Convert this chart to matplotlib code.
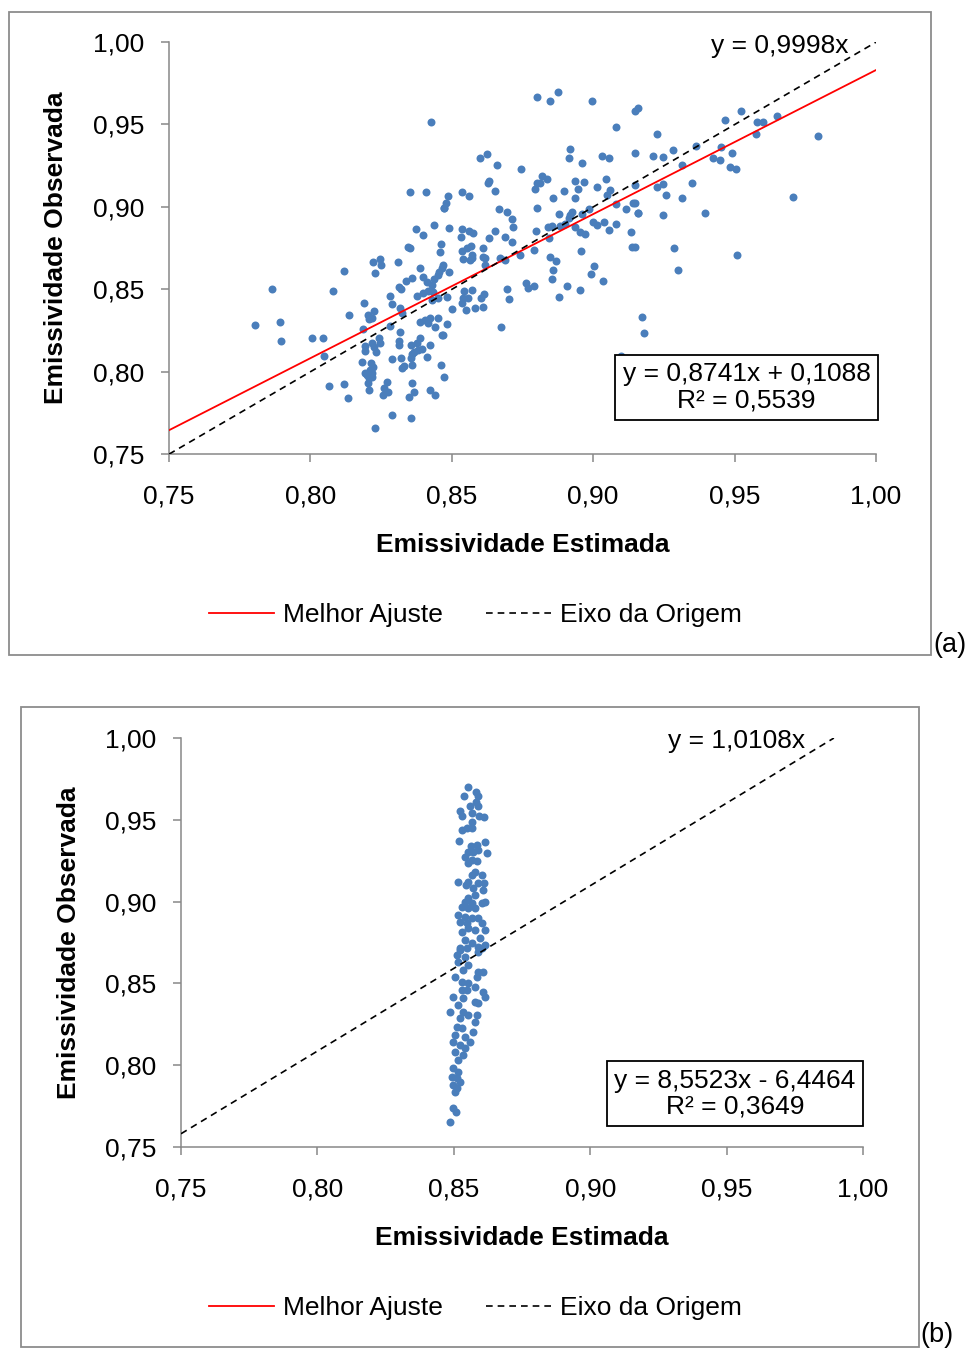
import matplotlib
matplotlib.use("Agg")
import matplotlib.pyplot as plt
from matplotlib.lines import Line2D
from matplotlib.patches import Rectangle
from matplotlib.ticker import FuncFormatter

plt.rcParams["font.family"] = ["Liberation Sans", "DejaVu Sans"]

# (a) emissividade estimada pelo modelo vs observada
est_a = [
    0.7865, 0.7805, 0.7891, 0.7895, 0.8080, 0.8119, 0.8007, 0.8045, 0.8049, 0.8136,
    0.8065, 0.8118, 0.8134, 0.8186, 0.8190, 0.8221, 0.8246, 0.8249, 0.8229, 0.8310,
    0.8389, 0.8338, 0.8358, 0.8312, 0.8319, 0.8280, 0.8290, 0.8399, 0.8411, 0.8429,
    0.8437, 0.8456, 0.8464, 0.8450, 0.8377, 0.8399, 0.8417, 0.8435, 0.8452, 0.8429,
    0.8205, 0.8217, 0.8207, 0.8224, 0.8318, 0.8323, 0.8283, 0.8318, 0.8243, 0.8245,
    0.8217, 0.8192, 0.8194, 0.8226, 0.8232, 0.8181, 0.8214, 0.8222, 0.8211, 0.8219,
    0.8199, 0.8193, 0.8207, 0.8217, 0.8203, 0.8287, 0.8320, 0.8330, 0.8323, 0.8270,
    0.8261, 0.8258, 0.8273, 0.8208, 0.8287, 0.8228, 0.8356, 0.8358, 0.8367, 0.8350,
    0.8424, 0.8441, 0.8356, 0.8376, 0.8367, 0.8358, 0.8382, 0.8394, 0.8388, 0.8313,
    0.8313, 0.8411, 0.8423, 0.8405, 0.8415, 0.8423, 0.8441, 0.8450, 0.8388, 0.8466,
    0.8472, 0.8462, 0.8356, 0.8360, 0.8541, 0.8570, 0.8617, 0.8670, 0.8688, 0.8741,
    0.8847, 0.8868, 0.8470, 0.8491, 0.8617, 0.8859, 0.8855, 0.9003, 0.8992, 0.9036,
    0.8762, 0.8771, 0.8791, 0.8908, 0.8953, 0.8879, 0.8694, 0.8702, 0.8543, 0.8570,
    0.8558, 0.8539, 0.8535, 0.8550, 0.8582, 0.8609, 0.8602, 0.8614, 0.8482, 0.8500,
    0.8482, 0.8470, 0.8674, 0.9097, 0.9172, 0.9180, 0.8802, 0.8847, 0.8877, 0.8995,
    0.9148, 0.9160, 0.9080, 0.8918, 0.8913, 0.9032, 0.9056, 0.8961, 0.9148, 0.8600,
    0.8626, 0.8661, 0.8744, 0.8627, 0.8632, 0.8653, 0.8820, 0.8838, 0.8800, 0.8812,
    0.8793, 0.8936, 0.8967, 0.8946, 0.9012, 0.9045, 0.8897, 0.9048, 0.9059, 0.8488,
    0.8479, 0.8472, 0.8536, 0.8562, 0.8859, 0.8937, 0.8667, 0.8696, 0.8714, 0.8802,
    0.8878, 0.8918, 0.8924, 0.8913, 0.8961, 0.8985, 0.9080, 0.9142, 0.9115, 0.9157,
    0.9000, 0.9012, 0.9039, 0.9080, 0.9056, 0.8491, 0.8536, 0.8560, 0.8576, 0.8534,
    0.8653, 0.8632, 0.8715, 0.8688, 0.8712, 0.8797, 0.8841, 0.8853, 0.8883, 0.8900,
    0.8936, 0.8953, 0.8971, 0.9134, 0.9138, 0.8956, 0.8845, 0.8609, 0.8611, 0.8535,
    0.8553, 0.8568, 0.8572, 0.8564, 0.8462, 0.8458, 0.8792, 0.9225, 0.9523, 0.9467,
    0.9578, 0.9601, 0.9649, 0.9576, 0.9794, 0.9213, 0.9246, 0.9281, 0.9362, 0.9314,
    0.9452, 0.9492, 0.9423, 0.9449, 0.9485, 0.9505, 0.9148, 0.9227, 0.9247, 0.9348,
    0.9259, 0.9313, 0.9148, 0.9160, 0.9248, 0.9396, 0.9708, 0.9148, 0.9286, 0.9510,
    0.9301, 0.8426, 0.8351, 0.8410, 0.8471, 0.8436, 0.8374, 0.8398, 0.8344, 0.8351,
]
obs_a = [
    0.8501, 0.8281, 0.8301, 0.8188, 0.8491, 0.8610, 0.8206, 0.8206, 0.8095, 0.8343,
    0.7913, 0.7927, 0.7842, 0.8259, 0.8414, 0.8663, 0.8683, 0.8647, 0.8598, 0.8663,
    0.8630, 0.8550, 0.8566, 0.8512, 0.8499, 0.8461, 0.8410, 0.8574, 0.8546, 0.8526,
    0.8560, 0.8606, 0.8627, 0.8586, 0.8461, 0.8475, 0.8489, 0.8485, 0.8445, 0.8434,
    0.8343, 0.8323, 0.8319, 0.8368, 0.8384, 0.8354, 0.8277, 0.8238, 0.8202, 0.8172,
    0.8172, 0.8157, 0.8127, 0.8151, 0.8121, 0.8060, 0.8054, 0.8030, 0.8010, 0.7990,
    0.7979, 0.7990, 0.7959, 0.7969, 0.7929, 0.8075, 0.8083, 0.8034, 0.8020, 0.7939,
    0.7899, 0.7858, 0.7874, 0.7888, 0.7737, 0.7656, 0.7717, 0.7931, 0.7878, 0.7848,
    0.7888, 0.7858, 0.8161, 0.8172, 0.8121, 0.8105, 0.8131, 0.8135, 0.8202, 0.8186,
    0.8161, 0.8090, 0.8161, 0.8313, 0.8293, 0.8323, 0.8272, 0.8323, 0.8303, 0.8222,
    0.7969, 0.8040, 0.8080, 0.8040, 0.8683, 0.8688, 0.8691, 0.8688, 0.8677, 0.8708,
    0.8697, 0.8671, 0.8647, 0.8606, 0.8647, 0.8617, 0.8560, 0.8643, 0.8592, 0.8550,
    0.8539, 0.8509, 0.8519, 0.8519, 0.8495, 0.8455, 0.8499, 0.8439, 0.8491, 0.8497,
    0.8448, 0.8445, 0.8414, 0.8374, 0.8384, 0.8394, 0.8445, 0.8469, 0.8451, 0.8380,
    0.8287, 0.8222, 0.8273, 0.8096, 0.8333, 0.8232, 0.9664, 0.9644, 0.9698, 0.9642,
    0.9583, 0.9598, 0.9482, 0.9351, 0.9294, 0.9308, 0.9298, 0.9266, 0.9325, 0.9298,
    0.9320, 0.9256, 0.9228, 0.9146, 0.9158, 0.9098, 0.9187, 0.9167, 0.9146, 0.9143,
    0.9106, 0.9155, 0.9151, 0.9108, 0.9122, 0.9167, 0.9098, 0.9072, 0.9100, 0.9066,
    0.9021, 0.8991, 0.9092, 0.9067, 0.9052, 0.9052, 0.8985, 0.8968, 0.8924, 0.8995,
    0.8958, 0.8950, 0.8970, 0.8930, 0.8956, 0.8985, 0.9015, 0.9023, 0.8987, 0.8964,
    0.8910, 0.8890, 0.8906, 0.8894, 0.8859, 0.8870, 0.8865, 0.8853, 0.8843, 0.8819,
    0.8855, 0.8812, 0.8877, 0.8819, 0.8784, 0.8851, 0.8874, 0.8884, 0.8884, 0.8893,
    0.8874, 0.8846, 0.8833, 0.8846, 0.8758, 0.8734, 0.8809, 0.8752, 0.8694, 0.8734,
    0.8748, 0.8762, 0.8708, 0.8677, 0.8773, 0.8728, 0.8738, 0.9440, 0.9580, 0.9525,
    0.9515, 0.9515, 0.9551, 0.9444, 0.9431, 0.9306, 0.9304, 0.9345, 0.9371, 0.9254,
    0.9361, 0.9327, 0.9296, 0.9282, 0.9240, 0.9228, 0.9132, 0.9118, 0.9140, 0.9146,
    0.9072, 0.9054, 0.9021, 0.8964, 0.8950, 0.8962, 0.9056, 0.8758, 0.8750, 0.8708,
    0.8617, 0.9515, 0.9090, 0.9090, 0.8995, 0.8890, 0.8865, 0.8831, 0.8758, 0.8748,
]

# (b) emissividade estimada por valor fixo vs observada
est_b = [
    0.8553, 0.8581, 0.8587, 0.8537, 0.8580, 0.8590, 0.8559, 0.8523, 0.8531, 0.8566,
    0.8592, 0.8611, 0.8568, 0.8547, 0.8531, 0.8566, 0.8519, 0.8614, 0.8562, 0.8584,
    0.8572, 0.8551, 0.8590, 0.8541, 0.8566, 0.8621, 0.8553, 0.8584, 0.8578, 0.8566,
    0.8602, 0.8553, 0.8590, 0.8612, 0.8517, 0.8572, 0.8608, 0.8544, 0.8578, 0.8553,
    0.8541, 0.8566, 0.8602, 0.8614, 0.8529, 0.8553, 0.8578, 0.8517, 0.8541, 0.8566,
    0.8590, 0.8523, 0.8547, 0.8602, 0.8553, 0.8578, 0.8614, 0.8529, 0.8596, 0.8541,
    0.8566, 0.8523, 0.8547, 0.8590, 0.8614, 0.8523, 0.8511, 0.8541, 0.8590, 0.8602,
    0.8517, 0.8553, 0.8535, 0.8590, 0.8608, 0.8584, 0.8504, 0.8529, 0.8553, 0.8578,
    0.8547, 0.8529, 0.8608, 0.8614, 0.8498, 0.8535, 0.8578, 0.8590, 0.8517, 0.8486,
    0.8535, 0.8553, 0.8584, 0.8523, 0.8578, 0.8511, 0.8529, 0.8572, 0.8504, 0.8541,
    0.8498, 0.8559, 0.8523, 0.8541, 0.8504, 0.8535, 0.8517, 0.8498, 0.8517, 0.8492,
    0.8511, 0.8523, 0.8498, 0.8511, 0.8504, 0.8498, 0.8507, 0.8486,
]
obs_b = [
    0.9698, 0.9668, 0.9647, 0.9647, 0.9610, 0.9586, 0.9586, 0.9555, 0.9521, 0.9540,
    0.9525, 0.9515, 0.9488, 0.9448, 0.9436, 0.9448, 0.9372, 0.9362, 0.9342, 0.9346,
    0.9305, 0.9301, 0.9315, 0.9274, 0.9254, 0.9295, 0.9234, 0.9248, 0.9183, 0.9162,
    0.9162, 0.9122, 0.9112, 0.9112, 0.9118, 0.9081, 0.9071, 0.9101, 0.9040, 0.9020,
    0.8999, 0.8989, 0.8989, 0.8996, 0.8969, 0.8959, 0.8959, 0.8918, 0.8908, 0.8898,
    0.8898, 0.8877, 0.8867, 0.8867, 0.8837, 0.8826, 0.8826, 0.8816, 0.8776, 0.8765,
    0.8745, 0.8704, 0.8714, 0.8724, 0.8735, 0.8714, 0.8674, 0.8663, 0.8694, 0.8714,
    0.8633, 0.8612, 0.8582, 0.8571, 0.8571, 0.8541, 0.8541, 0.8510, 0.8501, 0.8480,
    0.8460, 0.8460, 0.8449, 0.8419, 0.8419, 0.8409, 0.8388, 0.8378, 0.8368, 0.8327,
    0.8327, 0.8307, 0.8307, 0.8287, 0.8266, 0.8235, 0.8225, 0.8205, 0.8185, 0.8174,
    0.8144, 0.8144, 0.8123, 0.8103, 0.8082, 0.8062, 0.8032, 0.7981, 0.7960, 0.7930,
    0.7920, 0.7899, 0.7879, 0.7859, 0.7838, 0.7737, 0.7716, 0.7655,
]

# linhas de tendência (Excel)
fit_a = (0.8741, 0.1088, 0.5539)
fit_b = (8.5523, -6.4464, 0.3649)
orig_a = 0.9998
orig_b = 1.0108

ticks = [0.75, 0.80, 0.85, 0.90, 0.95, 1.00]
BLUE = "#4A7EBB"
GRAY = "#888888"
FS = 19


def comma(v, _pos=None):
    return f"{v:.2f}".replace(".", ",")


def style_axes(ax):
    ax.set_xlim(0.75, 1.0)
    ax.set_ylim(0.75, 1.0)
    ax.set_xticks(ticks)
    ax.set_yticks(ticks)
    ax.xaxis.set_major_formatter(FuncFormatter(comma))
    ax.yaxis.set_major_formatter(FuncFormatter(comma))
    for side in ("top", "right"):
        ax.spines[side].set_visible(False)
    for side in ("left", "bottom"):
        ax.spines[side].set_color(GRAY)
        ax.spines[side].set_linewidth(1.1)
    ax.tick_params(axis="x", direction="out", length=6, width=1.1, color=GRAY,
                   labelsize=FS, pad=16)
    ax.tick_params(axis="y", direction="out", length=6, width=1.1, color=GRAY,
                   labelsize=FS, pad=12)
    ax.set_xlabel("Emissividade Estimada", fontsize=FS, fontweight="bold", va="center")
    ax.set_ylabel("Emissividade Observada", fontsize=FS, fontweight="bold", va="center")


def comma_num(v, nd=4):
    return f"{v:.{nd}f}".replace(".", ",")


def eq_text(m, b, r2):
    sign = "+" if b >= 0 else "-"
    return (f"y = {comma_num(m)}x {sign} {comma_num(abs(b))}\n"
            f"R² = {comma_num(r2)}")


fig = plt.figure(figsize=(9.71, 13.51), dpi=100)

# painéis com moldura cinza
fig.patches.append(Rectangle((0.0093, 0.5152), 0.9495, 0.4760, transform=fig.transFigure,
                             fill=False, ec="#8c8c8c", lw=1.3))
fig.patches.append(Rectangle((0.0216, 0.0030), 0.9248, 0.4737, transform=fig.transFigure,
                             fill=False, ec="#8c8c8c", lw=1.3))

ax_a = fig.add_axes([0.1740, 0.6640, 0.7281, 0.3050])
ax_b = fig.add_axes([0.1864, 0.1510, 0.7024, 0.3027])

for ax in (ax_a, ax_b):
    style_axes(ax)

# --- (a)
ax_a.scatter(est_a, obs_a, s=33, color=BLUE, linewidths=0, zorder=3)
xs = [0.75, 1.0]
ax_a.plot(xs, [fit_a[0] * v + fit_a[1] for v in xs], color="red", lw=1.3, zorder=4)
ax_a.plot(xs, [orig_a * v for v in xs], color="black", lw=1.2, ls=(0, (4, 3)), zorder=4)
ax_a.text(0.864, 0.990, f"y = {comma_num(orig_a)}x", transform=ax_a.transAxes,
          fontsize=FS, ha="center", va="center")
ax_a.text(0.817, 0.161, eq_text(*fit_a), transform=ax_a.transAxes, fontsize=FS,
          ha="center", va="center", multialignment="center", linespacing=1.12,
          bbox=dict(boxstyle="square,pad=0.28", fc="white", ec="black", lw=1.3), zorder=5)
ax_a.xaxis.set_label_coords(0.50, -0.221)
ax_a.yaxis.set_label_coords(-0.160, 0.50)

# --- (b)
ax_b.scatter(est_b, obs_b, s=33, color=BLUE, linewidths=0, zorder=3)
x_end = 1.0 / orig_b
ax_b.plot([0.75, x_end], [orig_b * 0.75, 1.0], color="black", lw=1.2, ls=(0, (4, 3)),
          zorder=4)
ax_b.text(0.814, 0.993, f"y = {comma_num(orig_b)}x", transform=ax_b.transAxes,
          fontsize=FS, ha="center", va="center")
ax_b.text(0.812, 0.130, eq_text(*fit_b), transform=ax_b.transAxes, fontsize=FS,
          ha="center", va="center", multialignment="center", linespacing=1.12,
          bbox=dict(boxstyle="square,pad=0.28", fc="white", ec="black", lw=1.3), zorder=5)
ax_b.xaxis.set_label_coords(0.50, -0.223)
ax_b.yaxis.set_label_coords(-0.164, 0.50)

handles = [
    Line2D([], [], color="red", lw=1.3),
    Line2D([], [], color="black", lw=1.2, ls=(0, (4, 3))),
]
labels = ["Melhor Ajuste", "Eixo da Origem"]
for ax, lx, ly in ((ax_a, 0.4335, -0.391), (ax_b, 0.432, -0.394)):
    ax.legend(handles, labels, loc="center", bbox_to_anchor=(lx, ly), ncol=2,
              frameon=False, fontsize=FS, handlelength=2.45, handletextpad=0.35,
              columnspacing=1.65)

fig.text(0.961, 0.5226, "(a)", fontsize=FS + 0.5, ha="left", va="center")
fig.text(0.9475, 0.0118, "(b)", fontsize=FS + 0.5, ha="left", va="center")

fig.savefig("out.png", dpi=100)
